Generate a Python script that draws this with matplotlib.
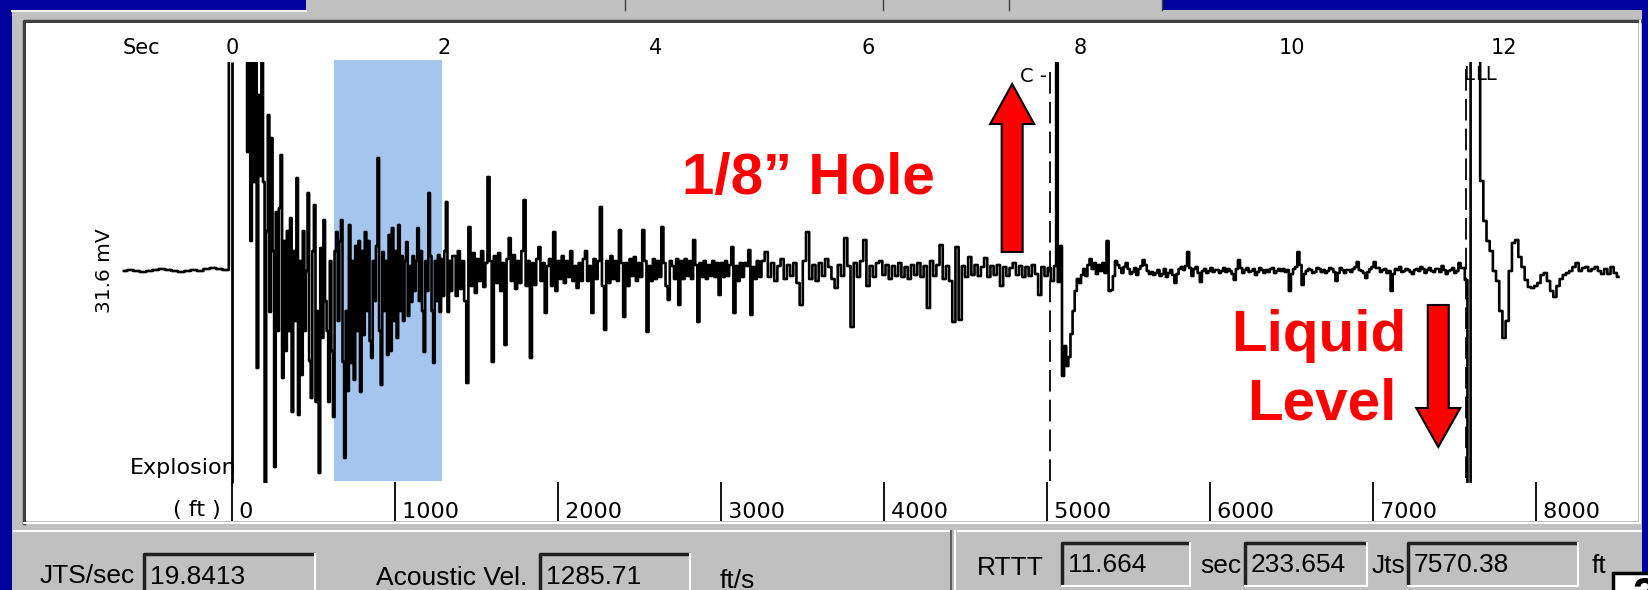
import numpy as np
import matplotlib
matplotlib.use('Agg')
import matplotlib.pyplot as plt
from matplotlib.patches import Rectangle, FancyArrow

# top scale (seconds) and bottom scale (feet)
sec_ticks = [0, 2, 4, 6, 8, 10, 12]
ft_ticks = [0, 1000, 2000, 3000, 4000, 5000, 6000, 7000, 8000]
ft_per_sec = 650.3

# markers on the trace (seconds)
explosion_t = 0.0
collar_t = 7.72
liquid_t = 11.64
highlight = (0.962, 1.98)

# acoustic trace, amplitude in screen units (+ = up).
# anything past the clip band (-212 .. 209) is off scale.
pre_start, pre_dt = -1.02, 0.06
pre_vals = [0, 1, 0, -1, 0, 1, 2, 1, 0, -1, 0, 1, 0, 2, 3, 2, 1]

shot_start, shot_dt = 0.0, 0.015
shot_vals = [
    300, 300, 300, 300, 300, 300, 300, 300, 300, 300,
    119, 300, 30, 260, 89, 300, -97, 176, 95, 300,
    89, -230, 40, 156, -41, 133, 20, -196, 59, -60,
    63, 116, -107, 30, -80, 40, -60, 53, -141, 20,
    -50, 93, -144, 10, -104, 40, -60, 0, 78, -90,
    -127, 20, 66, -131, -40, -202, 23, -67, 51, -30,
    -60, -131, 10, -80, -146, 20, 39, -50, 30, 51,
    -91, -187, -40, -120, 46, -92, 10, -109, 25, -60,
    30, -121, 20, -64, 39, -40, 30, -70, -87, 10,
    -30, 25, 113, -60, -114, 19, -40, 10, -84, 36,
    -80, 43, -50, 20, -67, 46, -40, 15, -50, 10,
    29, -45, 5, -31, 15, -20, 10, 43, -30, 20,
    -40, -81, 10, -20, 78, 15, -40, -92, 10, -30,
    16, -41, 12, -25, 20, 69, -41, 10, -20, 15,
]

decay_start, decay_dt = 2.10, 0.02
decay_vals = [
    15, -25, 20, -18, 10, -30, -112, 44, -15, 18,
    -22, 12, -10, 20, -16, 8, 94, 10, -91, 15,
    -12, 18, -20, 8, -74, 12, 33, -10, 16, -18,
    10, -12, 20, 71, -15, 10, -87, 8, -14, 12,
    24, -10, 8, -42, 5, 12, -15, 39, -20, 10,
    -8, 15, -12, 10, -6, 20, -10, 5, -17, 8,
    -10, 12, 20, -10, 5, -42, 12, -8, 10, 64,
    -15, -59, 10, -12, 15, -8, 10, -10, 41, 8,
    -46, 8, -15, 12, -5, 14, -10, 8, -6, 41,
    10, -61, 5, -10, 12, -8, 10, -6, 44, 8,
    -15, -29, 10, 5, -8, 12, -34, 10, -8, 12,
    -5, 10, -8, 31, 6, -51, 8, -6, 10, -8,
    6, -5, 10, -6, 8, -24, 8, -6, 10, -5,
    6, 24, -42, 5, -10, 8, -6, 8, 5, 21,
    -44, 4, -8, 10, -6,
]

late_start, late_dt = 5.01, 0.03
late_vals = [
    10, 19, -6,
    8, -10, 5, 12, -8, 6, -5, 8, -12, -34,
    10, 39, -8, 6, -10, 8, -5, 12, 4, -8,
    -17, 6, -5, 33, 5, -56, 8, -6, 10, 31,
    -15, 5, -6, 8, 10, -4, 6, -8, 5, -5,
    8, -6, 4, -8, 6, -4, 8, -6, 5, -37,
    10, -5, 6, 26, -8, 5, -10, -51, 24, -49,
    5, -6, 14, -4, 6, -5, 4, 13, -6, 5,
    -4, 6, -15, 4, -5, 3, 8, -4, 5, -6,
    4, -5, 6, -3, -24, 4, -5, 3, -10, 5,
]

collar_start, collar_dt = 7.78, 0.02
collar_vals = [300, -11, 25, -105, -75, -95, -86, -63, -40, -20,
               -8, -12, -4, 2, -5, 6, 12, 2, 8, -3,
               6, 0, 8, -2, 30, -20]

quiet_start, quiet_dt = 8.30, 0.02
quiet_vals = [
    -19, -5, 10, 6, 3, -2, 4, 8, 2, -3,
    -1, 3, -4, 2, 5, 11, 6, 0, -3, -1,
    -4, -2, 1, -5, -3, 2, -6, -2, 1, -4,
    -12, -3, 2, 4, 1, 5, 19, 3, -5, 2,
    4, -2, -11, 0, 2, -2, 0, 3, -1, 1,
    1, -2, 0, 3, -1, 2, 0, -3, -9, 2,
    11, 3, -2, 1, 3, -1, 0, 2, -4, -1,
    3, 1, -2, 1, -1, 2, 3, -2, 0, 2,
    0, 2, -1, 1, -20, -3, 2, 4, 19, 6,
    -14, -3, 0, 2, 1, -2, -1, 3, 2, -1,
    1, -2, 0, 3, 2, -1, -10, -2, 3, 1,
    -2, 1, 1, -1, 2, 4, 9, 1, 0, -2,
    -7, -1, 2, 4, 9, 3, 3, -1, 1, 2,
    -2, 0, -20, -3, 2, 1, 4, -1, 0, 2,
    1, -1, -3, 1, 2, 0, 4, 2, -2, 1,
    3, 0, -1, 2, 2, -1, 5, 1, -3, 0,
    1, 3, -2, 0, 8, 3, 3,
]

liquid_start, liquid_dt = 11.64, 0.03
liquid_vals = [
    -9, -300, 300, 300, 300, 90, 50, 30, 20, 0,
    -10, -40, -67, -50, 0, 28, 31, 14, 4, -9,
    -16, -17, -15, -12, -4, -2, -10, -20, -26, -15,
    -8, -4, -2, 0, 4, 8, 0, 3, 4, 0,
    2, 4, 0, -3, 2, -3, 4, -2, -6,
]

# readouts under the chart
jts_per_sec = '19.8413'
acoustic_vel = '1285.71'
rttt = '11.664'
joints = '233.654'
depth_ft = '7570.38'


def seg(start, dt, vals):
    return start + dt * np.arange(len(vals)), np.array(vals, dtype=float)


pieces = [seg(pre_start, pre_dt, pre_vals), seg(shot_start, shot_dt, shot_vals),
          seg(decay_start, decay_dt, decay_vals), seg(late_start, late_dt, late_vals),
          seg(collar_start, collar_dt, collar_vals), seg(quiet_start, quiet_dt, quiet_vals),
          seg(liquid_start, liquid_dt, liquid_vals)]
t = np.concatenate([p[0] for p in pieces])
amp = np.concatenate([p[1] for p in pieces])

W, H = 1648, 590
fig = plt.figure(figsize=(W / 100, H / 100), dpi=100)
fig.patch.set_facecolor('#00009c')

# window chrome in pixel coordinates
bg = fig.add_axes([0, 0, 1, 1], zorder=0)
bg.set_xlim(0, W)
bg.set_ylim(H, 0)
bg.axis('off')
grey = '#c0c0c0'
bg.add_patch(Rectangle((12, 10), 1630, 590, fc=grey, ec='none'))
bg.add_patch(Rectangle((306, 0), 856, 11, fc=grey, ec='none'))
for x in (625, 883, 1009, 1162):
    bg.plot([x, x], [0, 10], color='#404040', lw=1)
bg.plot([12, 306], [11, 11], color='#f0f0f0', lw=1.5)
bg.plot([24, 24, 1640], [523, 21, 21], color='#404040', lw=2.5)
bg.plot([24, 1640, 1640], [523, 523, 21], color='white', lw=1.5)
bg.plot([14, 949], [531, 531], color='white', lw=1.5)
bg.plot([958, 1641], [531, 531], color='white', lw=1.5)
bg.plot([951, 951], [531, 590], color='#606060', lw=1.5)
bg.plot([955, 955], [531, 590], color='white', lw=1.5)

panel_font = dict(family='Liberation Sans', fontsize=19, va='center', ha='left', color='black')


def field(x0, x1, y0, y1, text):
    bg.plot([x0, x0, x1], [y1, y0, y0], color='#202020', lw=2.5, solid_capstyle='butt')
    bg.plot([x0, x1, x1], [y1, y1, y0], color='white', lw=1.5)
    bg.text(x0 + 6, (y0 + min(y1, 598)) / 2 + 1, text, **panel_font)


bg.text(40, 576, 'JTS/sec', **panel_font)
field(144, 315, 554, 600, jts_per_sec)
bg.text(376, 578, 'Acoustic Vel.', **panel_font)
field(540, 690, 554, 600, acoustic_vel)
bg.text(720, 581, 'ft/s', **panel_font)
bg.text(977, 568, 'RTTT', **panel_font)
field(1062, 1190, 543, 586, rttt)
bg.text(1200, 566, 'sec', **panel_font)
field(1245, 1367, 543, 586, joints)
bg.text(1372, 566, 'Jts', **panel_font)
field(1408, 1578, 543, 586, depth_ft)
bg.text(1592, 566, 'ft', **panel_font)
bg.add_patch(Rectangle((1613, 573), 40, 30, fc='white', ec='black', lw=2.5))
bg.text(1633, 576, '2', family='Liberation Sans', fontsize=30, fontweight='bold',
        va='top', ha='left', color='black')

# the trace
x0, x1, y0, y1 = 26, 1638, 23, 521
ax = fig.add_axes([x0 / W, 1 - y1 / H, (x1 - x0) / W, (y1 - y0) / H], zorder=1)
ax.set_facecolor('white')
ax.set_xlim((x0 - 232) / 106, (x1 - 232) / 106)
ax.set_ylim(-(y1 - 271), 271 - y0)
for s in ax.spines.values():
    s.set_visible(False)
ax.set_yticks([])

ax.axvspan(highlight[0], highlight[1], ymin=(250 - 210) / 498, ymax=(250 + 211) / 498,
           color='#a4c6ee', lw=0, zorder=1)

line, = ax.plot(t, amp, color='black', lw=1.9, drawstyle='steps-mid', zorder=3)
line.set_clip_path(Rectangle((-2, -212), 16, 421, transform=ax.transData))

ax.vlines(explosion_t, -212, 209, color='black', lw=2.0, zorder=4)
ax.vlines(collar_t, -210, 200, color='black', lw=1.3, linestyles=(0, (12, 4.5)), zorder=4)
ax.vlines(liquid_t, -207, 205, color='black', lw=1.3, linestyles=(0, (12, 4.5)), zorder=4)

lab = dict(family='DejaVu Sans', color='black')
ax.text(collar_t - 0.03, 195, 'C -', ha='right', va='center', fontsize=14, **lab)
ax.text(liquid_t - 0.03, 197, 'L', ha='left', va='center', fontsize=14, **lab)
ax.text(liquid_t + 0.09, 197, 'LL', ha='left', va='center', fontsize=14, **lab)
ax.text(explosion_t + 0.04, -197, 'Explosion', ha='right', va='center', fontsize=16, **lab)
ax.text((141 - 232) / 106, 223, 'Sec', ha='center', va='center', fontsize=15, **lab)
ax.text(0.049, 0.502, '31.6 mV', rotation=90, ha='center', va='center', fontsize=14.5,
        transform=ax.transAxes, **lab)
ax.text(-0.11, -239, '( ft )', ha='right', va='center', fontsize=16, **lab)

# seconds along the top, inside the frame
ax.xaxis.tick_top()
ax.set_xticks(sec_ticks)
ax.tick_params(axis='x', length=0, pad=-25, labelsize=15, labelfontfamily='DejaVu Sans')

# feet along the bottom
ft_ax = ax.secondary_xaxis('bottom', functions=(lambda s: s * ft_per_sec, lambda f: f / ft_per_sec))
ft_ax.set_xticks(ft_ticks, labels=[' %d' % f for f in ft_ticks])
ft_ax.tick_params(direction='in', length=28, width=1.3, pad=-14, labelsize=16,
                  labelfontfamily='DejaVu Sans')
for lbl in ft_ax.get_xticklabels():
    lbl.set_horizontalalignment('left')
ft_ax.spines['bottom'].set_visible(False)

# red call-outs
red = '#ff0000'
ax.add_patch(FancyArrow(7.36, 19, 0, 168, width=0.198, head_width=0.415, head_length=40,
                        length_includes_head=True, fc=red, ec='black', lw=1.5, zorder=5))
ax.add_patch(FancyArrow(11.38, -34, 0, -142, width=0.198, head_width=0.415, head_length=39,
                        length_includes_head=True, fc=red, ec='black', lw=1.5, zorder=5))
callout = dict(family='Liberation Sans', fontsize=42, fontweight='bold', color=red,
               ha='center', va='center', zorder=6)
ax.text(5.44, 92, '1/8\u201d Hole', **callout)
ax.text(10.25, -65, 'Liquid', **callout)
ax.text(10.28, -133, 'Level', **callout)

fig.savefig('out.png', dpi=100, facecolor=fig.get_facecolor())
